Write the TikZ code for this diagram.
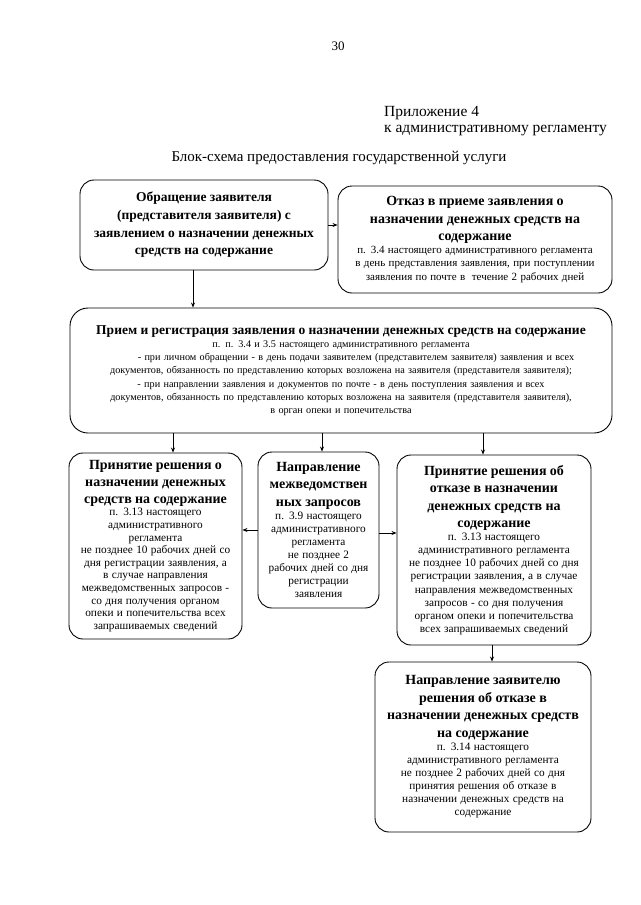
\documentclass[tikz,border=0pt]{standalone}
\usepackage{fontspec}
\setmainfont{Liberation Serif}
\usetikzlibrary{arrows.meta}
\newcommand\hdfont{\fontsize{14}{17.4}\selectfont\bfseries}
\newcommand\hdfontb{\fontsize{13.5}{17.7}\selectfont\bfseries}
\newcommand\smfont{\fontsize{11.3}{13.1}\selectfont}
\newcommand\bgfont{\fontsize{10.2}{13.2}\selectfont}
\begin{document}
\begin{tikzpicture}[x=1pt,y=-1pt,
  blk/.style={draw,line width=0.9pt,rounded corners=14pt,inner sep=0pt,align=center,
    minimum width=#1},
  arr/.style={line width=0.8pt,-{Stealth[length=5pt,width=4pt]}},
  plain/.style={inner sep=0pt}]
\useasboundingbox (0,0) rectangle (640,905);
\fill[white] (0,0) rectangle (640,905);
\node[plain,font=\fontsize{13}{15}\selectfont] (pg) at (338,46) {30};
\node[plain,anchor=west,font=\fontsize{15.5}{18}\selectfont] (app) at (384,113) {Приложение 4};
\node[plain,anchor=west,font=\fontsize{15.5}{18}\selectfont] (app2) at (384,131) {к административному регламенту};
\node[plain,font=\fontsize{15}{18}\selectfont] (ttl) at (339,158) {Блок-схема предоставления государственной услуги};

\node[blk=248pt,minimum height=90pt,text width=244pt] (b1) at (204,225)
 {{\hdfontb Обращение заявителя\\(представителя заявителя) с\\заявлением о назначении денежных\\средств на содержание\par}};

\node[blk=274pt,minimum height=107pt,text width=272pt] (b2) at (475,239.5)
 {{\hdfont Отказ в приеме заявления о\\назначении денежных средств на\\содержание\par}{\fontsize{11}{13.1}\selectfont п. 3.4 настоящего административного регламента\\в день представления заявления, при поступлении\\заявления по почте в \ течение 2 рабочих дней\par}};

\node[blk=542pt,minimum height=125pt,text width=536pt,rounded corners=18pt] (big) at (341,370.5)
 {{\hdfontb Прием и регистрация заявления о назначении денежных средств на содержание\par}{\bgfont п. п. 3.4 и 3.5 настоящего административного регламента\\\hspace*{30pt}- при личном обращении - в день подачи заявителем (представителем заявителя) заявления и всех\\документов, обязанность по представлению которых возложена на заявителя (представителя заявителя);\\- при направлении заявления и документов по почте - в день поступления заявления и всех\\документов, обязанность по представлению которых возложена на заявителя (представителя заявителя),\\в орган опеки и попечительства\par}};

\node[blk=173pt,minimum height=186pt,text width=171pt] (A) at (155.5,546)
 {{\fontsize{14}{17}\selectfont\bfseries Принятие решения о\\назначении денежных\\средств на содержание\par}{\fontsize{11.3}{12.6}\selectfont п. 3.13 настоящего\\административного\\регламента\\не позднее 10 рабочих дней со\\дня регистрации заявления, а\\в случае направления\\межведомственных запросов -\\со дня получения органом\\опеки и попечительства всех\\запрашиваемых сведений\par}};

\node[blk=121pt,minimum height=156pt,text width=119pt] (B) at (318.5,530)
 {{\hdfont Направление\\межведомствен\\ных запросов\par}{\smfont п. 3.9 настоящего\\административного\\регламента\\не позднее 2\\рабочих дней со дня\\регистрации\\заявления\par}};

\node[blk=194pt,minimum height=190pt,text width=192pt] (C) at (494,550)
 {{\hdfont Принятие решения об\\отказе в назначении\\денежных средств на\\содержание\par}{\smfont п. 3.13 настоящего\\административного регламента\\не позднее 10 рабочих дней со дня\\регистрации заявления, а в случае\\направления межведомственных\\запросов - со дня получения\\органом опеки и попечительства\\всех запрашиваемых сведений\par}};

\node[blk=216pt,minimum height=170pt,text width=214pt] (D) at (483,747)
 {{\hdfont Направление заявителю\\решения об отказе в\\назначении денежных средств\\на содержание\par}{\smfont п. 3.14 настоящего\\административного регламента\\не позднее 2 рабочих дней со дня\\принятия решения об отказе в\\назначении денежных средств на\\содержание\par}};

\draw[arr] (b1.east) -- (b1.east -| b2.west);
\draw[arr] ([xshift=-11pt]b1.south) -- ([xshift=-11pt]b1.south |- big.north);
\draw[arr] ([xshift=17.5pt]A.north |- big.south) -- ([xshift=17.5pt]A.north);
\draw[arr] ([xshift=3.5pt]B.north |- big.south) -- ([xshift=3.5pt]B.north);
\draw[arr] ([xshift=-11pt]C.north |- big.south) -- ([xshift=-11pt]C.north);
\draw[arr] (B.west) -- (B.west -| A.east);
\draw[arr] ([yshift=-3pt]B.east) -- ([yshift=-3pt]B.east -| C.west);
\draw[arr] ([xshift=-2pt]C.south) -- ([xshift=-2pt]C.south |- D.north);
\end{tikzpicture}
\end{document}
